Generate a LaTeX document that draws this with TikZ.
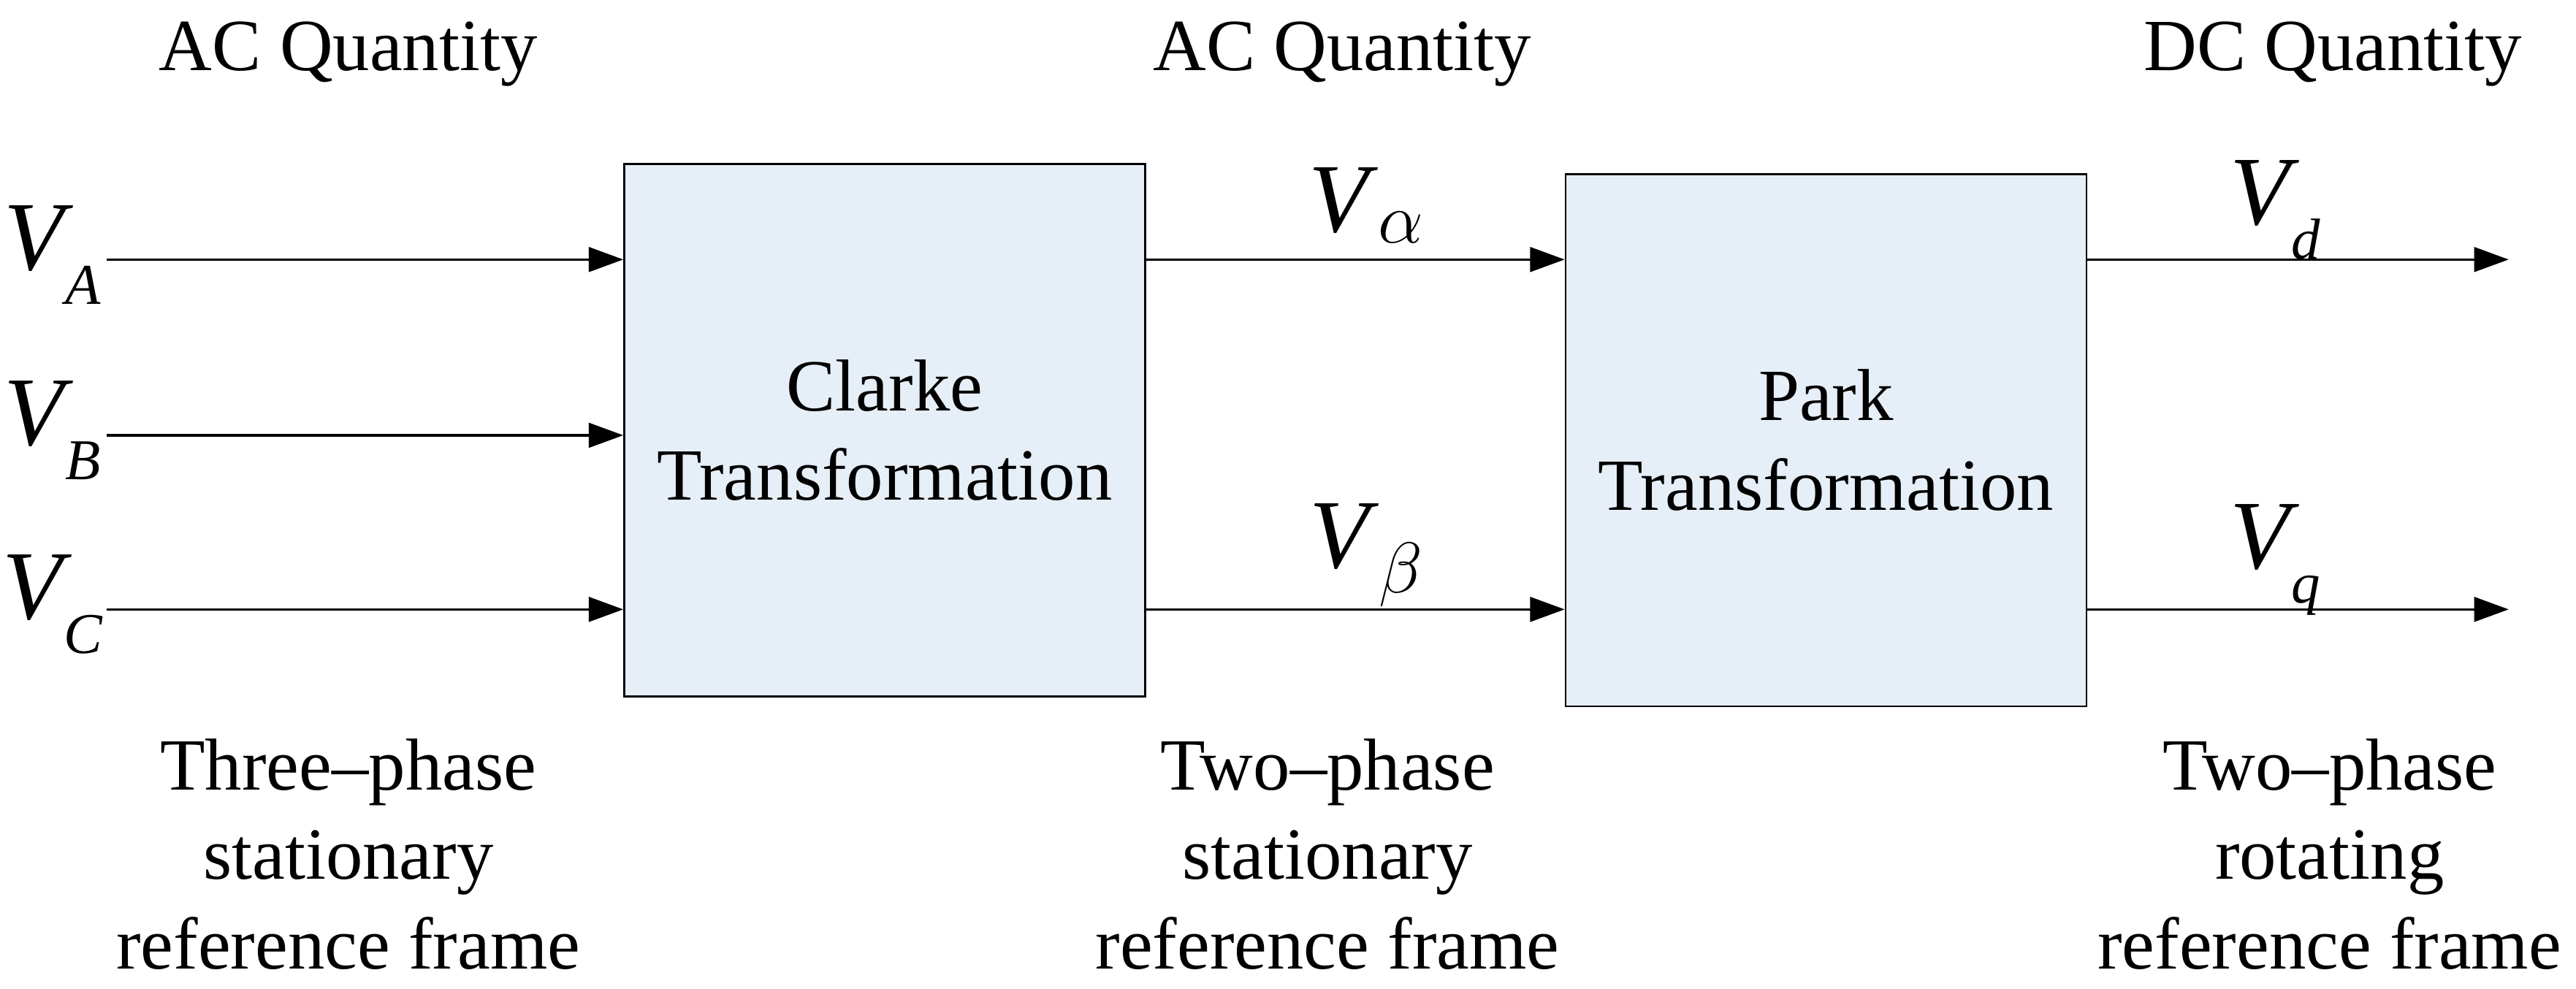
\documentclass[tikz,border=0pt]{standalone}
\usepackage{fontspec}
\setmainfont{Liberation Serif}
\usetikzlibrary{arrows.meta}
\definecolor{boxfill}{HTML}{E6EEF7}
\newcommand{\sv}[1]{\textit{V}\kern-0.08em\raisebox{-0.35em}{\fontsize{20}{22}\selectfont\textit{#1}}}
\newcommand{\sg}[1]{\textit{V}$_{#1}$}
\begin{document}
\begin{tikzpicture}[x=0.02cm,y=-0.02cm,
  every node/.style={font=\fontsize{25.5}{31}\selectfont},
  blk/.style={draw=black,fill=boxfill,line width=0.7pt,minimum width=317*0.02cm,minimum height=324*0.02cm,inner sep=0pt,align=center},
  sig/.style={line width=0.8pt,-{Triangle[length=0.42cm,width=0.3cm]}},
  lbl/.style={font=\fontsize{34}{38}\selectfont},
  txt/.style={align=center}]
\useasboundingbox (0,0) rectangle (1568,602);
\node[blk] (clarke) at (538.5,262) {Clarke\\Transformation};
\node[blk] (park) at (1111.5,268) {Park\\Transformation};
\coordinate (a0) at (65,158); \coordinate (b0) at (65,265); \coordinate (c0) at (65,371);
\coordinate (d1) at (1527,158); \coordinate (q1) at (1527,371);
\draw[sig] (a0) -- (a0 -| clarke.west);
\draw[sig] (b0) -- (b0 -| clarke.west);
\draw[sig] (c0) -- (c0 -| clarke.west);
\draw[sig] (clarke.east |- a0) -- (park.west |- a0);
\draw[sig] (clarke.east |- c0) -- (park.west |- c0);
\draw[sig] (park.east |- d1) -- (d1);
\draw[sig] (park.east |- q1) -- (q1);
\node[lbl] (va) at (32,155) {\sv{A}};
\node[lbl] (vb) at (32,262) {\sv{B}};
\node[lbl] (vc) at (32,368) {\sv{C}};
\node[lbl] (val) at (832,125) {\sg{\alpha}};
\node[lbl] (vbe) at (832,338) {\sg{\beta}};
\node[lbl] (vd) at (1385,128) {\sv{d}};
\node[lbl] (vq) at (1385,341) {\sv{q}};
\node (t1) at (212,33) {AC Quantity};
\node (t2) at (817,33) {AC Quantity};
\node (t3) at (1420,33) {DC Quantity};
\node[txt] (b1) at (212,520) {Three--phase\\stationary\\reference frame};
\node[txt] (b2) at (808,520) {Two--phase\\stationary\\reference frame};
\node[txt] (b3) at (1418,520) {Two--phase\\rotating\\reference frame};
\end{tikzpicture}
\end{document}
